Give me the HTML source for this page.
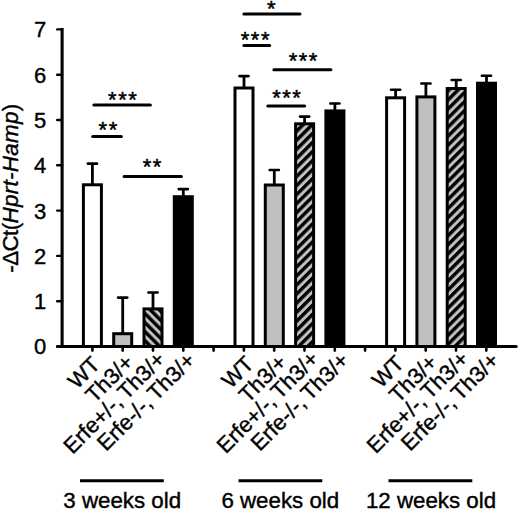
<!DOCTYPE html>
<html><head><meta charset="utf-8"><style>
html,body{margin:0;padding:0;background:#fff;}
svg{display:block;}
.t{font-family:"Liberation Sans",sans-serif;font-size:22px;fill:#000;stroke:#000;stroke-width:0.4px;}
.xl{font-family:"Liberation Sans",sans-serif;font-size:22px;fill:#000;word-spacing:-2px;stroke:#000;stroke-width:0.4px;}
.s{font-family:"Liberation Sans",sans-serif;font-size:22px;letter-spacing:1.5px;fill:#000;stroke:#000;stroke-width:0.5px;stroke-linejoin:round;}
.b{font-family:"Liberation Sans",sans-serif;font-size:22.3px;fill:#000;stroke:#000;stroke-width:0.4px;}
</style></head><body>
<svg width="520" height="510" viewBox="0 0 520 510">
<defs>
<pattern id="h1" patternUnits="userSpaceOnUse" width="6.4" height="6.4" patternTransform="translate(1,0) rotate(-45)"><rect width="6.4" height="6.4" fill="#c0c0c0"/><rect width="3.4" height="6.4" fill="#000"/></pattern>
<pattern id="h2" patternUnits="userSpaceOnUse" width="6.4" height="6.4" patternTransform="translate(0,0) rotate(45)"><rect width="6.4" height="6.4" fill="#c0c0c0"/><rect width="3.4" height="6.4" fill="#000"/></pattern>
<pattern id="h3" patternUnits="userSpaceOnUse" width="6.4" height="6.4" patternTransform="translate(0,2.5) rotate(45)"><rect width="6.4" height="6.4" fill="#c0c0c0"/><rect width="3.4" height="6.4" fill="#000"/></pattern>
</defs>
<rect width="520" height="510" fill="#fff"/>
<line x1="62.1" y1="28" x2="62.1" y2="348" stroke="#000" stroke-width="3.1"/>
<line x1="57.2" y1="346.5" x2="62" y2="346.5" stroke="#000" stroke-width="2.4" stroke-linecap="round"/>
<text x="46.3" y="354.4" text-anchor="end" class="t">0</text>
<line x1="57.2" y1="301.2" x2="62" y2="301.2" stroke="#000" stroke-width="2.4" stroke-linecap="round"/>
<text x="46.3" y="309.1" text-anchor="end" class="t">1</text>
<line x1="57.2" y1="255.9" x2="62" y2="255.9" stroke="#000" stroke-width="2.4" stroke-linecap="round"/>
<text x="46.3" y="263.8" text-anchor="end" class="t">2</text>
<line x1="57.2" y1="210.6" x2="62" y2="210.6" stroke="#000" stroke-width="2.4" stroke-linecap="round"/>
<text x="46.3" y="218.5" text-anchor="end" class="t">3</text>
<line x1="57.2" y1="165.3" x2="62" y2="165.3" stroke="#000" stroke-width="2.4" stroke-linecap="round"/>
<text x="46.3" y="173.2" text-anchor="end" class="t">4</text>
<line x1="57.2" y1="120.0" x2="62" y2="120.0" stroke="#000" stroke-width="2.4" stroke-linecap="round"/>
<text x="46.3" y="127.9" text-anchor="end" class="t">5</text>
<line x1="57.2" y1="74.7" x2="62" y2="74.7" stroke="#000" stroke-width="2.4" stroke-linecap="round"/>
<text x="46.3" y="82.6" text-anchor="end" class="t">6</text>
<line x1="57.2" y1="29.4" x2="62" y2="29.4" stroke="#000" stroke-width="2.4" stroke-linecap="round"/>
<text x="46.3" y="37.3" text-anchor="end" class="t">7</text>
<line x1="57.5" y1="346.5" x2="516.2" y2="346.5" stroke="#000" stroke-width="3" stroke-linecap="round"/>
<line x1="92.4" y1="346.5" x2="92.4" y2="350.6" stroke="#000" stroke-width="2.6" stroke-linecap="round"/>
<line x1="122.7" y1="346.5" x2="122.7" y2="350.6" stroke="#000" stroke-width="2.6" stroke-linecap="round"/>
<line x1="153.0" y1="346.5" x2="153.0" y2="350.6" stroke="#000" stroke-width="2.6" stroke-linecap="round"/>
<line x1="183.3" y1="346.5" x2="183.3" y2="350.6" stroke="#000" stroke-width="2.6" stroke-linecap="round"/>
<line x1="213.6" y1="346.5" x2="213.6" y2="350.6" stroke="#000" stroke-width="2.6" stroke-linecap="round"/>
<line x1="243.9" y1="346.5" x2="243.9" y2="350.6" stroke="#000" stroke-width="2.6" stroke-linecap="round"/>
<line x1="274.2" y1="346.5" x2="274.2" y2="350.6" stroke="#000" stroke-width="2.6" stroke-linecap="round"/>
<line x1="304.5" y1="346.5" x2="304.5" y2="350.6" stroke="#000" stroke-width="2.6" stroke-linecap="round"/>
<line x1="334.8" y1="346.5" x2="334.8" y2="350.6" stroke="#000" stroke-width="2.6" stroke-linecap="round"/>
<line x1="365.1" y1="346.5" x2="365.1" y2="350.6" stroke="#000" stroke-width="2.6" stroke-linecap="round"/>
<line x1="395.4" y1="346.5" x2="395.4" y2="350.6" stroke="#000" stroke-width="2.6" stroke-linecap="round"/>
<line x1="425.7" y1="346.5" x2="425.7" y2="350.6" stroke="#000" stroke-width="2.6" stroke-linecap="round"/>
<line x1="456.0" y1="346.5" x2="456.0" y2="350.6" stroke="#000" stroke-width="2.6" stroke-linecap="round"/>
<line x1="486.3" y1="346.5" x2="486.3" y2="350.6" stroke="#000" stroke-width="2.6" stroke-linecap="round"/>
<line x1="92.4" y1="163.6" x2="92.4" y2="184.3" stroke="#000" stroke-width="2.8"/>
<line x1="87.8" y1="163.6" x2="97.0" y2="163.6" stroke="#000" stroke-width="2.6" stroke-linecap="round"/>
<rect x="83.4" y="184.8" width="18.0" height="161.7" fill="#fff" stroke="#000" stroke-width="3.0"/>
<line x1="122.7" y1="297.6" x2="122.7" y2="333.2" stroke="#000" stroke-width="2.8"/>
<line x1="118.1" y1="297.6" x2="127.3" y2="297.6" stroke="#000" stroke-width="2.6" stroke-linecap="round"/>
<rect x="113.7" y="333.7" width="18.0" height="12.8" fill="#c0c0c0" stroke="#000" stroke-width="3.0"/>
<line x1="153.0" y1="292.5" x2="153.0" y2="308.4" stroke="#000" stroke-width="2.8"/>
<line x1="148.4" y1="292.5" x2="157.6" y2="292.5" stroke="#000" stroke-width="2.6" stroke-linecap="round"/>
<rect x="144.0" y="308.9" width="18.0" height="37.6" fill="url(#h1)" stroke="#000" stroke-width="3.0"/>
<line x1="183.3" y1="189.1" x2="183.3" y2="196.2" stroke="#000" stroke-width="2.8"/>
<line x1="178.7" y1="189.1" x2="187.9" y2="189.1" stroke="#000" stroke-width="2.6" stroke-linecap="round"/>
<rect x="174.3" y="196.7" width="18.0" height="149.8" fill="#000" stroke="#000" stroke-width="3.0"/>
<line x1="244.0" y1="76.1" x2="244.0" y2="87.5" stroke="#000" stroke-width="2.8"/>
<line x1="239.4" y1="76.1" x2="248.6" y2="76.1" stroke="#000" stroke-width="2.6" stroke-linecap="round"/>
<rect x="235.0" y="88.0" width="18.0" height="258.5" fill="#fff" stroke="#000" stroke-width="3.0"/>
<line x1="274.3" y1="170.0" x2="274.3" y2="184.5" stroke="#000" stroke-width="2.8"/>
<line x1="269.7" y1="170.0" x2="278.9" y2="170.0" stroke="#000" stroke-width="2.6" stroke-linecap="round"/>
<rect x="265.3" y="185.0" width="18.0" height="161.5" fill="#c0c0c0" stroke="#000" stroke-width="3.0"/>
<line x1="304.6" y1="116.6" x2="304.6" y2="123.3" stroke="#000" stroke-width="2.8"/>
<line x1="300.0" y1="116.6" x2="309.2" y2="116.6" stroke="#000" stroke-width="2.6" stroke-linecap="round"/>
<rect x="295.6" y="123.8" width="18.0" height="222.7" fill="url(#h2)" stroke="#000" stroke-width="3.0"/>
<line x1="334.9" y1="103.5" x2="334.9" y2="110.4" stroke="#000" stroke-width="2.8"/>
<line x1="330.3" y1="103.5" x2="339.5" y2="103.5" stroke="#000" stroke-width="2.6" stroke-linecap="round"/>
<rect x="325.9" y="110.9" width="18.0" height="235.6" fill="#000" stroke="#000" stroke-width="3.0"/>
<line x1="395.6" y1="89.7" x2="395.6" y2="97.3" stroke="#000" stroke-width="2.8"/>
<line x1="391.0" y1="89.7" x2="400.2" y2="89.7" stroke="#000" stroke-width="2.6" stroke-linecap="round"/>
<rect x="386.6" y="97.8" width="18.0" height="248.7" fill="#fff" stroke="#000" stroke-width="3.0"/>
<line x1="425.9" y1="83.5" x2="425.9" y2="96.4" stroke="#000" stroke-width="2.8"/>
<line x1="421.3" y1="83.5" x2="430.5" y2="83.5" stroke="#000" stroke-width="2.6" stroke-linecap="round"/>
<rect x="416.9" y="96.9" width="18.0" height="249.6" fill="#c0c0c0" stroke="#000" stroke-width="3.0"/>
<line x1="456.2" y1="80.0" x2="456.2" y2="88.0" stroke="#000" stroke-width="2.8"/>
<line x1="451.6" y1="80.0" x2="460.8" y2="80.0" stroke="#000" stroke-width="2.6" stroke-linecap="round"/>
<rect x="447.2" y="88.5" width="18.0" height="258.0" fill="url(#h3)" stroke="#000" stroke-width="3.0"/>
<line x1="486.5" y1="75.7" x2="486.5" y2="82.7" stroke="#000" stroke-width="2.8"/>
<line x1="481.9" y1="75.7" x2="491.1" y2="75.7" stroke="#000" stroke-width="2.6" stroke-linecap="round"/>
<rect x="477.5" y="83.2" width="18.0" height="263.3" fill="#000" stroke="#000" stroke-width="3.0"/>
<line x1="93.9" y1="105.1" x2="150.4" y2="105.1" stroke="#000" stroke-width="3" stroke-linecap="round"/>
<line x1="92.7" y1="136.6" x2="121.4" y2="136.6" stroke="#000" stroke-width="3" stroke-linecap="round"/>
<line x1="124.1" y1="176.4" x2="181.4" y2="176.4" stroke="#000" stroke-width="3" stroke-linecap="round"/>
<line x1="243.9" y1="14.1" x2="300.0" y2="14.1" stroke="#000" stroke-width="3" stroke-linecap="round"/>
<line x1="243.9" y1="45.5" x2="269.7" y2="45.5" stroke="#000" stroke-width="3" stroke-linecap="round"/>
<line x1="273.9" y1="69.7" x2="330.9" y2="69.7" stroke="#000" stroke-width="3" stroke-linecap="round"/>
<line x1="267.8" y1="106.0" x2="304.6" y2="106.0" stroke="#000" stroke-width="3" stroke-linecap="round"/>
<text x="108.1" y="107.2" class="s">***</text>
<text x="98.6" y="136.8" class="s">**</text>
<text x="142.8" y="174.0" class="s">**</text>
<text x="267.0" y="16.3" class="s">*</text>
<text x="240.8" y="46.6" class="s">***</text>
<text x="288.7" y="67.5" class="s">***</text>
<text x="272.2" y="104.7" class="s">***</text>
<text transform="translate(101.26,365.74) rotate(-45)" text-anchor="end" class="xl">WT</text>
<text transform="translate(134.78,363.64) rotate(-45)" text-anchor="end" class="xl">Th3/+</text>
<text transform="translate(166.68,360.64) rotate(-45)" text-anchor="end" class="xl">Erfe+/-, Th3/+</text>
<text transform="translate(196.48,361.64) rotate(-45)" text-anchor="end" class="xl">Erfe-/-, Th3/+</text>
<text transform="translate(254.96,365.24) rotate(-45)" text-anchor="end" class="xl">WT</text>
<text transform="translate(288.18,363.54) rotate(-45)" text-anchor="end" class="xl">Th3/+</text>
<text transform="translate(319.98,360.14) rotate(-45)" text-anchor="end" class="xl">Erfe+/-, Th3/+</text>
<text transform="translate(350.08,361.64) rotate(-45)" text-anchor="end" class="xl">Erfe-/-, Th3/+</text>
<text transform="translate(405.16,364.74) rotate(-45)" text-anchor="end" class="xl">WT</text>
<text transform="translate(438.58,363.54) rotate(-45)" text-anchor="end" class="xl">Th3/+</text>
<text transform="translate(470.08,360.14) rotate(-45)" text-anchor="end" class="xl">Erfe+/-, Th3/+</text>
<text transform="translate(500.28,361.64) rotate(-45)" text-anchor="end" class="xl">Erfe-/-, Th3/+</text>
<line x1="80" y1="480.7" x2="163.8" y2="480.7" stroke="#000" stroke-width="3"/>
<line x1="238.5" y1="480.7" x2="322.3" y2="480.7" stroke="#000" stroke-width="3"/>
<line x1="388.5" y1="480.7" x2="472.3" y2="480.7" stroke="#000" stroke-width="3"/>
<text x="63.3" y="507.5" class="b">3 weeks old</text>
<text x="221.4" y="507.5" class="b">6 weeks old</text>
<text x="365.9" y="507.5" class="b">12 weeks old</text>
<text transform="translate(18.1,272.7) rotate(-90)" class="t" style="font-size:22.4px"><tspan letter-spacing="-0.6">-ΔCt(</tspan><tspan font-style="italic" letter-spacing="0.3">Hprt-Hamp</tspan>)</text>
</svg>
</body></html>
